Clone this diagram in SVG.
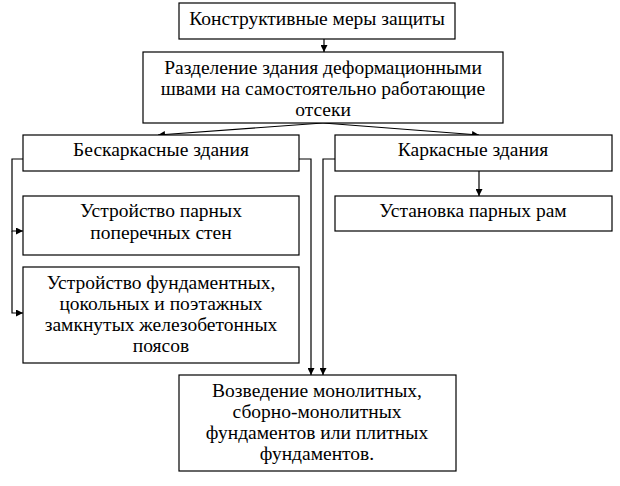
<svg xmlns="http://www.w3.org/2000/svg" width="620" height="486" viewBox="0 0 620 486">
<style>
.box{fill:#fff;stroke:#000;stroke-width:1.2}
.t{font-family:"Liberation Serif","Times New Roman",serif;font-size:19.5px;fill:#000;text-anchor:middle}
.c{fill:none;stroke:#000;stroke-width:1.2}
</style>
<defs>
<marker id="ah" viewBox="0 0 10 10" refX="10" refY="5" markerWidth="7" markerHeight="7" markerUnits="userSpaceOnUse" orient="auto">
<path d="M0,0 L10,5 L0,10 Z" fill="#000"/>
</marker>
</defs>
<rect width="620" height="486" fill="#fff"/>
<g id="connectors">
<line class="c" x1="324" y1="39" x2="324" y2="52" marker-end="url(#ah)"/>
<line class="c" x1="323" y1="123" x2="158" y2="135" marker-end="url(#ah)"/>
<line class="c" x1="323" y1="123" x2="479" y2="135" marker-end="url(#ah)"/>
<polyline class="c" points="23,159 12,159 12,231 23,231" marker-end="url(#ah)"/>
<polyline class="c" points="12,231 12,313 23,313" marker-end="url(#ah)"/>
<polyline class="c" points="299,159 311,159 311,375" marker-end="url(#ah)"/>
<polyline class="c" points="335,159 323,159 323,375" marker-end="url(#ah)"/>
<line class="c" x1="479" y1="171" x2="479" y2="196" marker-end="url(#ah)"/>
</g>
<g id="n1">
<rect class="box" x="179" y="3" width="276" height="36"/>
<text class="t" x="317" y="25">Конструктивные меры защиты</text>
</g>
<g id="n2">
<rect class="box" x="143" y="52" width="360" height="71"/>
<text class="t" x="323" y="74">Разделение здания деформационными</text>
<text class="t" x="323" y="95">швами на самостоятельно работающие</text>
<text class="t" x="323" y="116">отсеки</text>
</g>
<g id="n3">
<rect class="box" x="23" y="135" width="276" height="36"/>
<text class="t" x="161" y="156">Бескаркасные здания</text>
</g>
<g id="n4">
<rect class="box" x="335" y="135" width="277" height="36"/>
<text class="t" x="473" y="156">Каркасные здания</text>
</g>
<g id="n5">
<rect class="box" x="23" y="196" width="276" height="59"/>
<text class="t" x="161" y="217">Устройство парных</text>
<text class="t" x="161" y="239">поперечных стен</text>
</g>
<g id="n6">
<rect class="box" x="335" y="196" width="277" height="35"/>
<text class="t" x="473" y="217">Установка парных рам</text>
</g>
<g id="n7">
<rect class="box" x="23" y="267" width="276" height="96"/>
<text class="t" x="161" y="289">Устройство фундаментных,</text>
<text class="t" x="161" y="310">цокольных и поэтажных</text>
<text class="t" x="161" y="331">замкнутых железобетонных</text>
<text class="t" x="161" y="352">поясов</text>
</g>
<g id="n8">
<rect class="box" x="179" y="375" width="277" height="96"/>
<text class="t" x="317" y="397">Возведение монолитных,</text>
<text class="t" x="317" y="418">сборно-монолитных</text>
<text class="t" x="317" y="439">фундаментов или плитных</text>
<text class="t" x="317" y="460">фундаментов.</text>
</g>
</svg>
